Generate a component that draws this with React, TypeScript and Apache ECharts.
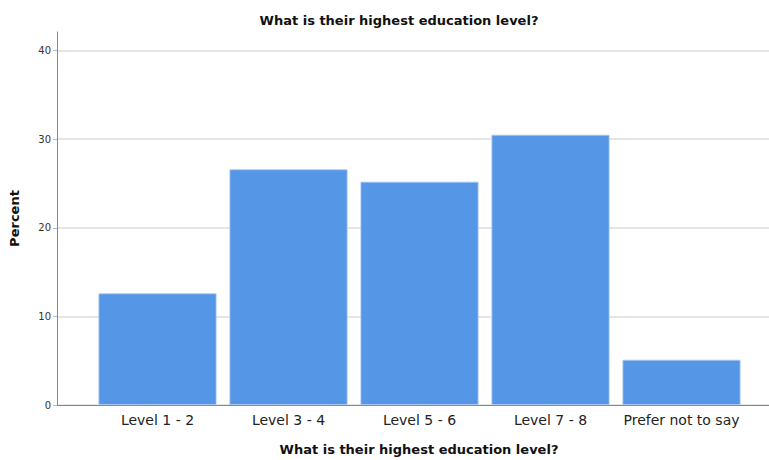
import React, { useEffect, useRef } from "react";
import * as echarts from "echarts";

const categories = ["Level 1 - 2", "Level 3 - 4", "Level 5 - 6", "Level 7 - 8", "Prefer not to say"];
const percentValues = [12.6, 26.6, 25.2, 30.5, 5.1];
const yTicks = [0, 10, 20, 30, 40];

const TITLE = "What is their highest education level?";
const FONT = "'DejaVu Sans', 'Noto Sans', sans-serif";

export default function App() {
  const ref = useRef<HTMLDivElement>(null);
  useEffect(() => {
    if (!ref.current) return;
    const chart = echarts.init(ref.current, null, { renderer: "svg" });
    const yMax = 42.1;
    chart.setOption({
      animation: false,
      backgroundColor: "#ffffff",
      title: {
        text: TITLE,
        left: 394,
        top: 9,
        textAlign: "center",
        textStyle: { fontFamily: FONT, fontSize: 13, fontWeight: "bold", color: "#111" },
      },
      graphic: [
        {
          type: "text",
          x: 419,
          y: 449,
          style: {
            text: TITLE,
            fontFamily: FONT,
            fontSize: 13,
            fontWeight: "bold",
            fill: "#111",
            align: "center",
            verticalAlign: "middle",
          },
        },
      ],
      grid: [
        { left: 56, right: 0, top: 32, bottom: 55, containLabel: false },
        { left: 92, right: 22, top: 32, bottom: 55, containLabel: false },
      ],
      xAxis: [
        {
          type: "value",
          gridIndex: 0,
          min: 0,
          max: 1,
          axisLine: { show: true, onZero: false, lineStyle: { color: "#888", width: 1 } },
          axisTick: { show: false },
          axisLabel: { show: false },
          splitLine: { show: false },
        },
        {
          type: "category",
          gridIndex: 1,
          data: categories,
          axisLine: { show: false },
          axisTick: { show: false },
          axisLabel: { fontFamily: FONT, fontSize: 14, color: "#222", margin: 8, interval: 0 },
        },
      ],
      yAxis: [
        {
          type: "value",
          gridIndex: 0,
          min: 0,
          max: yMax,
          interval: 10,
          axisLine: { show: true, lineStyle: { color: "#888", width: 1 } },
          axisTick: { show: true, length: 4, lineStyle: { color: "#bbb" } },
          axisLabel: {
            fontFamily: FONT,
            fontSize: 10,
            color: "#333",
            margin: 6,
            showMaxLabel: false,
            formatter: (v: number) => (yTicks.includes(v) ? String(v) : ""),
          },
          splitLine: { show: true, showMaxLine: false, lineStyle: { color: "#dcdcdc", width: 1.5 } },
          name: "Percent",
          nameLocation: "middle",
          nameGap: 36,
          nameRotate: 90,
          nameTextStyle: { fontFamily: FONT, fontSize: 13, fontWeight: "bold", color: "#111" },
        },
        {
          type: "value",
          gridIndex: 1,
          min: 0,
          max: yMax,
          show: false,
          splitLine: { show: false },
        },
      ],
      series: [
        {
          type: "bar",
          xAxisIndex: 1,
          yAxisIndex: 1,
          data: percentValues,
          barWidth: 118,
          itemStyle: { color: "#5596e6", borderColor: "#a9c9f0", borderWidth: 0.8 },
        },
      ],
    });
    return () => chart.dispose();
  }, []);
  return <div ref={ref} style={{ width: 769, height: 460, position: "absolute", left: 0, top: 0 }} />;
}
